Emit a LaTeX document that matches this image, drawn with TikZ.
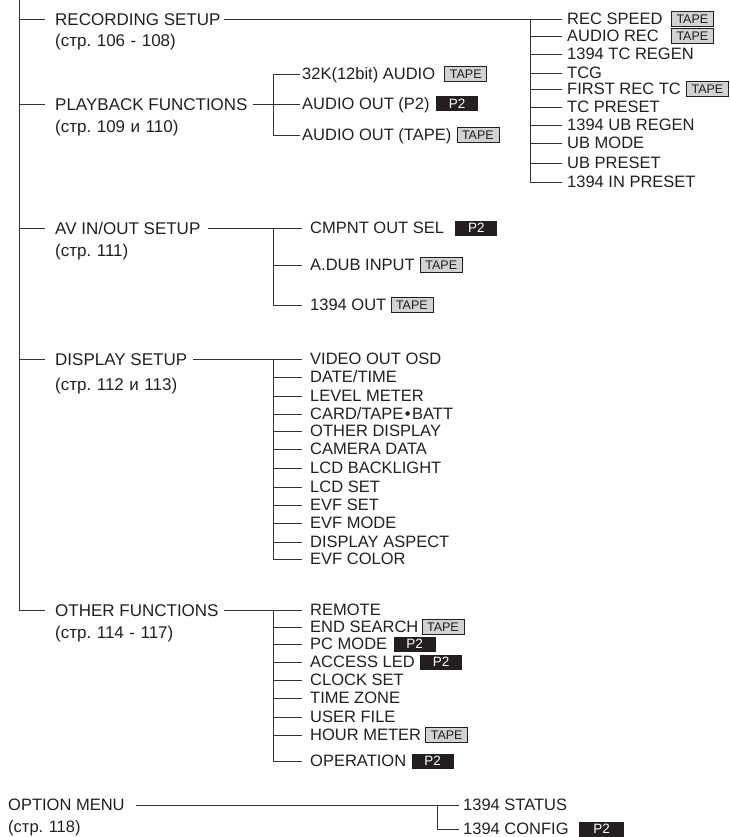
\documentclass[tikz,border=0pt]{standalone}
\usepackage{fontspec}
\setmainfont{Liberation Sans}
\newcommand\mainfs{\fontsize{16.5}{18}\selectfont}
\newcommand\headfs{\fontsize{17}{18}\selectfont}
\newcommand\tapefs{\fontsize{12.5}{13}\selectfont}
\newcommand\ptwofs{\fontsize{13.5}{14}\selectfont}
\newcommand\wsp{\hspace{5.5pt}}
\definecolor{ink}{HTML}{231F20}
\definecolor{wirec}{HTML}{333333}
\definecolor{tapegray}{HTML}{D2D2D2}
\tikzset{
  lbl/.style={anchor=west, inner sep=0pt, text height=11.8pt, text depth=0pt, font=\mainfs, text=ink},
  head/.style={lbl, text height=12.2pt, font=\headfs},
  tapebox/.style={anchor=west, draw=ink, line width=0.7pt, fill=tapegray, inner sep=0pt,
    minimum height=14.5pt, minimum width=42pt, font=\tapefs, text=ink},
  ptwobox/.style={anchor=west, fill=ink, inner sep=0pt, minimum height=15pt, minimum width=42pt,
    font=\ptwofs, text=white},
  wire/.style={draw=wirec, line width=0.8pt},
}
\begin{document}
\begin{tikzpicture}[x=1pt, y=-1pt]
\useasboundingbox (0,0) rectangle (730,837);

% ---------- level 1 ----------
\coordinate (top) at (19,0);
\node[head] (rec)    at (55,19)  {RECORDING SETUP};
\node[head] (recp)   at (55,40)  {(стр.\wsp 106\wsp -\wsp 108)};
\node[head] (play)   at (55,104) {PLAYBACK FUNCTIONS};
\node[head] (playp)  at (55,126) {(стр.\wsp 109\wsp и\wsp 110)};
\node[head] (av)     at (55,228) {AV IN/OUT SETUP};
\node[head] (avp)    at (55,250) {(стр.\wsp 111)};
\node[head] (disp)   at (55,359) {DISPLAY SETUP};
\node[head] (dispp)  at (55,384) {(стр.\wsp 112\wsp и\wsp 113)};
\node[head] (other)  at (55,610) {OTHER FUNCTIONS};
\node[head] (otherp) at (55,632) {(стр.\wsp 114\wsp -\wsp 117)};
\node[lbl] (opt)    at (8,805)  {OPTION MENU};
\node[lbl] (optp)   at (8,827)  {(стр.\wsp 118)};

\draw[wire] (top) |- ([xshift=-10pt]other.west);
\foreach \n in {rec,play,av,disp}
  \draw[wire] (top |- \n.west) -- ([xshift=-10pt]\n.west);

% ---------- recording setup ----------
\coordinate (recv) at (530,19);
\node[lbl] (r1)  at (567,19)  {REC SPEED};
\node[lbl] (r2)  at (567,36)  {AUDIO REC};
\node[lbl] (r3)  at (567,54)  {1394 TC REGEN};
\node[lbl] (r4)  at (567,73)  {TCG};
\node[lbl] (r5)  at (567,89)  {FIRST REC TC};
\node[lbl] (r6)  at (567,107) {TC PRESET};
\node[lbl] (r7)  at (567,125) {1394 UB REGEN};
\node[lbl] (r8)  at (567,143) {UB MODE};
\node[lbl] (r9)  at (567,163) {UB PRESET};
\node[lbl] (r10) at (567,182) {1394 IN PRESET};
\node[tapebox] (r1t) at (671,19) {TAPE};
\node[tapebox] (r2t) at (671,36) {TAPE};
\node[tapebox] (r5t) at ([xshift=5pt]r5.east) {TAPE};
\draw[wire] ([xshift=3pt]rec.east) -- (recv) -- (recv |- r10.west);
\foreach \n in {r1,r2,r3,r4,r5,r6,r7,r8,r9,r10}
  \draw[wire] (recv |- \n.west) -- ([xshift=-5pt]\n.west);

% ---------- playback functions ----------
\coordinate (playv) at (273,104);
\node[lbl] (p1) at (302,74)  {32K(12bit) AUDIO};
\node[lbl] (p2) at (302,104) {AUDIO OUT (P2)};
\node[lbl] (p3) at (302,135) {AUDIO OUT (TAPE)};
\node[tapebox] (p1t) at ([xshift=9pt]p1.east) {TAPE};
\node[ptwobox] (p2b) at ([xshift=6pt]p2.east) {P2};
\node[tapebox] (p3t) at ([xshift=5pt]p3.east) {TAPE};
\draw[wire] ([xshift=5pt]play.east) -- (playv);
\draw[wire] (playv |- p1.west) -- (playv |- p3.west);
\foreach \n in {p1,p2,p3}
  \draw[wire] (playv |- \n.west) -- ([xshift=-2pt]\n.west);

% ---------- AV in/out ----------
\coordinate (avv) at (273,228);
\node[lbl] (a1) at (310,228) {CMPNT OUT SEL};
\node[lbl] (a2) at (310,265) {A.DUB INPUT};
\node[lbl] (a3) at (310,305) {1394 OUT};
\node[ptwobox] (a1b) at ([xshift=11pt]a1.east) {P2};
\node[tapebox] (a2t) at ([xshift=5pt]a2.east) {TAPE};
\node[tapebox] (a3t) at ([xshift=4pt]a3.east) {TAPE};
\draw[wire] ([xshift=7pt]av.east) -- (avv) -- (avv |- a3.west);
\foreach \n in {a1,a2,a3}
  \draw[wire] (avv |- \n.west) -- ([xshift=-8pt]\n.west);

% ---------- display setup ----------
\coordinate (dv) at (273,359);
\node[lbl] (d1)  at (310,359) {VIDEO OUT OSD};
\node[lbl] (d2)  at (310,377) {DATE/TIME};
\node[lbl] (d3)  at (310,396) {LEVEL METER};
\node[lbl] (d4)  at (310,414) {CARD/TAPE\hspace{1.5pt}•\hspace{1.5pt}BATT};
\node[lbl] (d5)  at (310,431) {OTHER DISPLAY};
\node[lbl] (d6)  at (310,449) {CAMERA DATA};
\node[lbl] (d7)  at (310,468) {LCD BACKLIGHT};
\node[lbl] (d8)  at (310,487) {LCD SET};
\node[lbl] (d9)  at (310,505) {EVF SET};
\node[lbl] (d10) at (310,523) {EVF MODE};
\node[lbl] (d11) at (310,542) {DISPLAY ASPECT};
\node[lbl] (d12) at (310,559) {EVF COLOR};
\draw[wire] ([xshift=6pt]disp.east) -- (dv) -- (dv |- d12.west);
\foreach \n in {d1,d2,d3,d4,d5,d6,d7,d8,d9,d10,d11,d12}
  \draw[wire] (dv |- \n.west) -- ([xshift=-8pt]\n.west);

% ---------- other functions ----------
\coordinate (ov) at (273,610);
\node[lbl] (o1) at (310,610) {REMOTE};
\node[lbl] (o2) at (310,627) {END SEARCH};
\node[lbl] (o3) at (310,644) {PC MODE};
\node[lbl] (o4) at (310,662) {ACCESS LED};
\node[lbl] (o5) at (310,680) {CLOCK SET};
\node[lbl] (o6) at (310,698) {TIME ZONE};
\node[lbl] (o7) at (310,717) {USER FILE};
\node[lbl] (o8) at (310,735) {HOUR METER};
\node[lbl] (o9) at (310,761) {OPERATION};
\node[tapebox] (o2t) at ([xshift=3pt]o2.east) {TAPE};
\node[ptwobox] (o3b) at ([xshift=6pt]o3.east) {P2};
\node[ptwobox] (o4b) at ([xshift=5pt]o4.east) {P2};
\node[tapebox] (o8t) at ([xshift=4pt]o8.east) {TAPE};
\node[ptwobox] (o9b) at ([xshift=5pt]o9.east) {P2};
\draw[wire] ([xshift=5pt]other.east) -- (ov) -- (ov |- o9.west);
\foreach \n in {o1,o2,o3,o4,o5,o6,o7,o8,o9}
  \draw[wire] (ov |- \n.west) -- ([xshift=-8pt]\n.west);

% ---------- option menu ----------
\coordinate (optv) at (437,805);
\node[lbl] (q1) at (463,805) {1394 STATUS};
\node[lbl] (q2) at (463,829) {1394 CONFIG};
\node[ptwobox, minimum width=45pt] (q2b) at ([xshift=10pt]q2.east) {P2};
\draw[wire] ([xshift=11pt]opt.east) -- (optv) -- (optv |- q2.west);
\foreach \n in {q1,q2}
  \draw[wire] (optv |- \n.west) -- ([xshift=-4pt]\n.west);
\end{tikzpicture}
\end{document}
